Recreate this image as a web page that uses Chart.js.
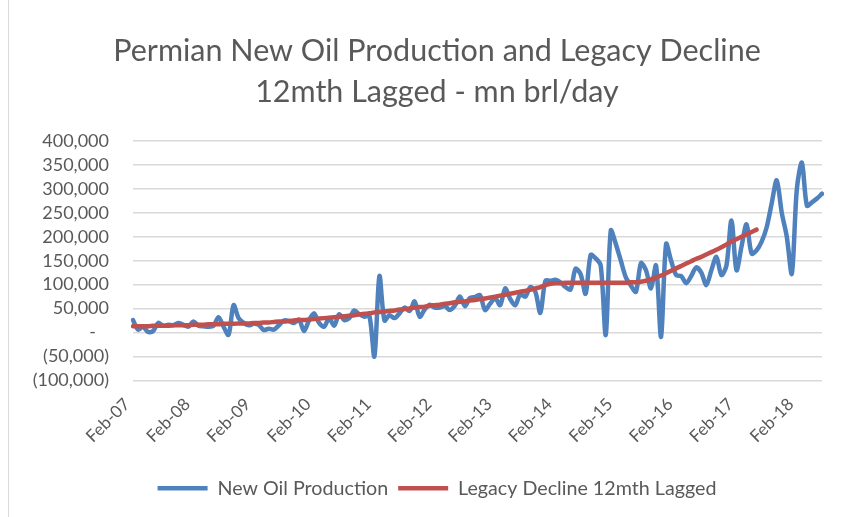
<!DOCTYPE html>
<html>
<head>
<meta charset="utf-8">
<script src="https://cdn.jsdelivr.net/npm/chart.js@4.4.1/dist/chart.umd.min.js"></script>
<style>
  html, body { margin: 0; padding: 0; background: #ffffff; }
  #wrap { width: 851px; height: 517px; position: relative; }
</style>
</head>
<body>
<div id="wrap"><canvas id="c" width="851" height="517"></canvas></div>
<script>
// ---- Data ----
const titleLines = ['Permian New Oil Production and Legacy Decline', '12mth Lagged - mn brl/day'];
const seriesNames = ['New Oil Production', 'Legacy Decline 12mth Lagged'];
const monthNames = ['Jan','Feb','Mar','Apr','May','Jun','Jul','Aug','Sep','Oct','Nov','Dec'];
const firstMonth = 'Feb-07';
const lastMonth = 'Jul-18';
const xTickLabels = ['Feb-07','Feb-08','Feb-09','Feb-10','Feb-11','Feb-12','Feb-13','Feb-14','Feb-15','Feb-16','Feb-17','Feb-18'];

// New Oil Production, monthly Feb-07 .. Jul-18 (barrels/day)
const newOilProduction = [
  26000, 6000, 12000, 1000, 3000, 20000, 14000, 16000, 15000, 20000, 16000, 12000,      // Feb-07..Jan-08
  23000, 14000, 13000, 12000, 14000, 32000, 12000, -5000, 57000, 30000, 20000, 15000,   // Feb-08..Jan-09
  18000, 16000, 5000, 8000, 6000, 15000, 25000, 24000, 20000, 27000, 3000, 25000,       // Feb-09..Jan-10
  40000, 20000, 12000, 30000, 14000, 38000, 26000, 30000, 46000, 38000, 33000, 35000,   // Feb-10..Jan-11
  -50000, 118000, 25000, 36000, 30000, 40000, 52000, 45000, 65000, 33000, 48000, 58000, // Feb-11..Jan-12
  52000, 52000, 55000, 47000, 56000, 75000, 55000, 72000, 74000, 78000, 47000, 60000,   // Feb-12..Jan-13
  72000, 57000, 92000, 70000, 57000, 80000, 75000, 95000, 85000, 41000, 108000, 108000, // Feb-13..Jan-14
  110000, 105000, 95000, 90000, 133000, 122000, 81000, 162000, 155000, 140000, -5000, 213000, // Feb-14..Jan-15
  185000, 150000, 115000, 98000, 85000, 145000, 130000, 92000, 140000, -9000, 185000, 150000, // Feb-15..Jan-16
  120000, 118000, 103000, 118000, 136000, 125000, 99000, 130000, 158000, 120000, 140000, 234000, // Feb-16..Jan-17
  130000, 180000, 226000, 165000, 172000, 190000, 220000, 270000, 318000, 250000, 200000, 123000, // Feb-17..Jan-18
  300000, 355000, 265000, 272000, 280000, 290000                                               // Feb-18..Jul-18
];

// Legacy Decline 12mth Lagged, monthly Feb-07 .. Jun-17
const legacyDecline = [
  13000, 13000, 13000, 13000, 14000, 14000, 14000, 14000, 15000, 15000, 15000, 15000,
  16000, 16000, 16000, 17000, 17000, 17000, 18000, 18000, 18000, 19000, 19000, 19000,
  20000, 20000, 21000, 21000, 22000, 23000, 23000, 24000, 25000, 26000, 26000, 27000,
  28000, 29000, 30000, 31000, 32000, 33000, 34000, 35000, 36000, 38000, 39000, 40000,
  42000, 43000, 44000, 45000, 46000, 48000, 49000, 50000, 52000, 53000, 54000, 56000,
  57000, 58000, 60000, 61000, 63000, 64000, 65000, 67000, 68000, 70000, 71000, 73000,
  75000, 77000, 79000, 81000, 83000, 85000, 87000, 89000, 92000, 95000, 99000, 102000,
  103000, 103000, 104000, 104000, 104000, 104000, 104000, 104000, 104000, 104000, 104000, 104000,
  104000, 104000, 104000, 105000, 105000, 106000, 108000, 111000, 115000, 119000, 124000, 129000,
  134000, 139000, 144000, 149000, 154000, 158000, 163000, 168000, 173000, 178000, 184000, 190000,
  195000, 200000, 205000, 210000, 215000
];

const yMin = -100000, yMax = 400000, yStep = 50000;

// month categories Feb-07 .. Jul-18
const categories = [];
(function () {
  let m = monthNames.indexOf(firstMonth.slice(0, 3));
  let y = parseInt(firstMonth.slice(4), 10);
  while (true) {
    const lab = monthNames[m] + '-' + String(y).padStart(2, '0');
    categories.push(lab);
    if (lab === lastMonth) break;
    m++; if (m > 11) { m = 0; y++; }
  }
})();

const FONT = 'Lato, "Open Sans", "Liberation Sans", sans-serif';
const GREY = '#595959';

function fmtAccounting(v) {
  if (v === 0) return '-\u2800';
  const s = Math.abs(v).toLocaleString('en-US');
  return v < 0 ? '(' + s + ')' : s;
}

const borderPlugin = {
  id: 'chartBorder',
  beforeDraw(chart) {
    const ctx = chart.ctx;
    ctx.save();
    ctx.fillStyle = '#ffffff';
    ctx.fillRect(0, 0, chart.width, chart.height);
    ctx.strokeStyle = '#d9d9d9';
    ctx.lineWidth = 1;
    ctx.beginPath();
    ctx.moveTo(8.5, 0);
    ctx.lineTo(8.5, chart.height);
    ctx.stroke();
    ctx.restore();
  }
};

// centre title and legend on the same axis as the reference (x ≈ 437)
const centrePlugin = {
  id: 'centreBlocks',
  afterLayout(chart) {
    const shift = 26;
    if (chart.titleBlock) { chart.titleBlock.left += shift; chart.titleBlock.right += shift; }
    if (chart.legend) { chart.legend.left += shift; chart.legend.right += shift; }
  }
};

new Chart(document.getElementById('c'), {
  type: 'line',
  data: {
    labels: categories,
    datasets: [
      {
        label: seriesNames[0],
        data: newOilProduction,
        borderColor: '#4f81bd',
        backgroundColor: '#4f81bd',
        borderWidth: 4.5,
        pointRadius: 0,
        tension: 0.3,
        borderJoinStyle: 'round',
        borderCapStyle: 'round',
        order: 2
      },
      {
        label: seriesNames[1],
        data: legacyDecline,
        borderColor: '#c0504d',
        backgroundColor: '#c0504d',
        borderWidth: 4.5,
        pointRadius: 0,
        cubicInterpolationMode: 'monotone',
        borderJoinStyle: 'round',
        borderCapStyle: 'round',
        order: 1
      }
    ]
  },
  options: {
    responsive: false,
    animation: false,
    devicePixelRatio: 1,
    layout: { padding: { top: 1, right: 29, bottom: 9, left: 0 } },
    plugins: {
      title: {
        display: true,
        text: titleLines,
        color: GREY,
        font: { family: FONT, size: 30.5, weight: 'normal', lineHeight: 1.33 },
        padding: { top: 30, bottom: 29 }
      },
      legend: {
        display: true,
        position: 'bottom',
        labels: {
          color: GREY,
          font: { family: FONT, size: 19.7 },
          usePointStyle: true,
          pointStyle: 'line',
          pointStyleWidth: 50,
          boxHeight: 5,
          padding: 10,
          sort(a, b) { return a.datasetIndex - b.datasetIndex; }
        }
      },
      tooltip: { enabled: false }
    },
    scales: {
      x: {
        type: 'category',
        offset: false,
        grid: { display: false, drawTicks: false },
        border: { display: false },
        afterFit(scale) { scale.height = 88; },
        ticks: {
          autoSkip: false,
          maxRotation: 45,
          minRotation: 45,
          padding: 14,
          labelOffset: -6,
          color: GREY,
          font: { family: FONT, size: 17 },
          callback(value, index) {
            const lab = categories[index];
            return xTickLabels.includes(lab) ? lab : '';
          }
        }
      },
      y: {
        min: yMin,
        max: yMax,
        grid: { color: '#d9d9d9', lineWidth: 1.4, drawTicks: false },
        border: { display: false },
        afterFit(scale) { scale.width = 133; },
        ticks: {
          stepSize: yStep,
          autoSkip: false,
          padding: 24,
          color: GREY,
          font: { family: FONT, size: 18 },
          callback(v) { return fmtAccounting(v); }
        }
      }
    }
  },
  plugins: [borderPlugin, centrePlugin]
});
</script>
</body>
</html>
